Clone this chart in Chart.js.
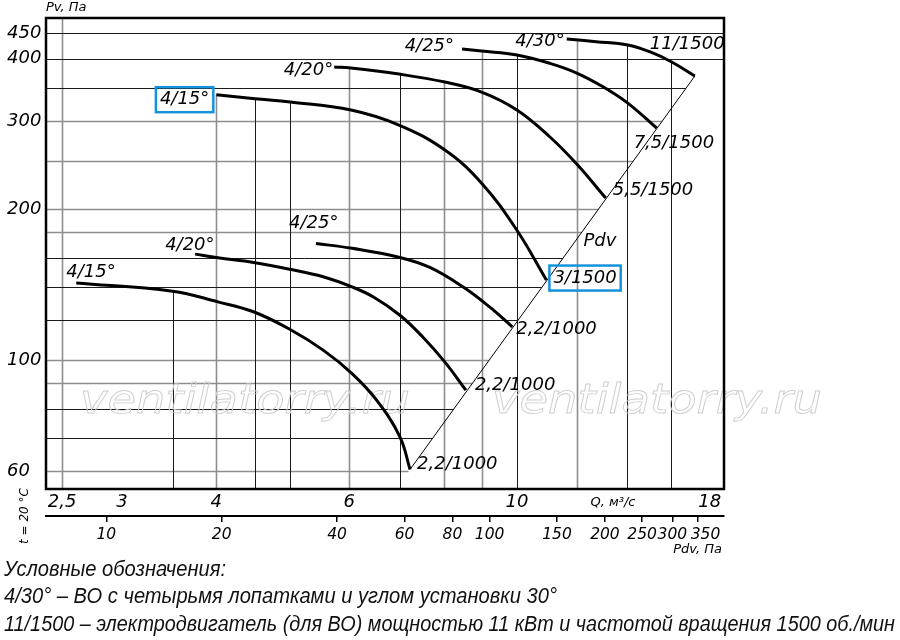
<!DOCTYPE html>
<html lang="ru">
<head>
<meta charset="utf-8">
<title>Аэродинамические характеристики</title>
<script src="https://cdn.jsdelivr.net/npm/chart.js@4.4.1/dist/chart.umd.min.js"></script>
<style>
  html, body { margin: 0; background: #fff; }
  #wrap { position: relative; width: 900px; height: 640px; overflow: hidden; }
  #chart { position: absolute; left: 0; top: 0; }
  .note { position: absolute; left: 4px; margin: 0; white-space: nowrap; transform-origin: 0 0;
          font: italic 22px/22px 'Liberation Sans Narrow', 'Liberation Sans', Arial, sans-serif; color: #111; }
</style>
</head>
<body>
<div id="wrap">
  <canvas id="chart" width="900" height="640"></canvas>
  <div class="note" style="top:558px" data-w="222">Условные обозначения:</div>
  <div class="note" style="top:585px" data-w="553">4/30° – ВО с четырьмя лопатками и углом установки 30°</div>
  <div class="note" style="top:613px" data-w="891">11/1500 – электродвигатель (для ВО) мощностью 11 кВт и частотой вращения 1500 об./мин</div>
</div>
<script>
// Pv(Q) curves, Q in m3/s, Pv in Pa
const qLow15 = [2.61, 3.50, 4.02, 4.48, 5.01, 5.54, 6.05, 6.52, 7.00, 7.22];
const pLow15 = [142.6, 137.3, 130.7, 124.9, 115.1, 104.7, 94.0, 83.2, 70.3, 60.5];
const qLow20 = [3.75, 4.02, 4.48, 5.01, 5.54, 6.05, 6.45, 7.00, 7.51, 8.03, 8.56];
const pLow20 = [162.8, 160.1, 156.7, 151.8, 146.7, 140.0, 133.8, 122.9, 111.1, 99.1, 87.1];
const qLow25 = [5.42, 6.05, 7.00, 7.67, 8.49, 9.20, 9.86];
const pLow25 = [171.0, 167.2, 160.3, 153.1, 139.9, 127.7, 116.5];
const qUp15 = [4.00, 4.50, 5.01, 6.03, 6.98, 8.03, 8.98, 10.0, 10.94];
const pUp15 = [338.8, 332.6, 327.6, 315.8, 294.7, 262.7, 225.6, 181.7, 144.5];
const qUp20 = [5.73, 6.03, 6.98, 8.03, 8.98, 10.0, 11.06, 12.0, 13.11];
const pUp20 = [384.7, 383.0, 372.5, 359.0, 342.9, 315.8, 278.9, 246.3, 210.7];
const qUp25 = [8.46, 8.98, 10.0, 11.06, 12.0, 13.0, 14.02, 15.31];
const pUp25 = [418.0, 414.1, 406.6, 391.3, 374.3, 351.4, 326.0, 290.7];
const qUp30 = [11.64, 12.74, 14.02, 14.99, 16.03, 17.2];
const pUp30 = [437.7, 432.3, 425.8, 412.8, 393.7, 369.1];

// Pdv line through the ends of the curves
const qPdv = [7.22, 17.2];
const pPdv = [60.5, 369.1];

// ticks and grid values
const qTicks = [2.5, 3, 4, 6, 10, 18];
const pvTicks = [60, 100, 200, 300, 400, 450];
const pdvTicks = [10, 20, 40, 60, 80, 100, 150, 200, 250, 300, 350];
const qGridDark = [3.5, 4.5, 5, 7, 10, 14, 16];
const qGridLight = [2.5, 4, 6, 8, 9, 12];
const pGridDark = [70, 80, 120, 140, 160, 350, 400, 450];
const pGridLight = [60, 90, 100, 180, 200, 250, 300];

const FONT = "'DejaVu Sans', sans-serif";
const font = size => 'italic ' + size + 'px ' + FONT;
const tickFont = { family: FONT, size: 18, style: 'italic' };
const pdvFont = { family: FONT, size: 15.5, style: 'italic' };
const fmt = v => String(v).replace('.', ',');

const curves = [
    { q: qLow15, p: pLow15 },
    { q: qLow20, p: pLow20 },
    { q: qLow25, p: pLow25 },
    { q: qUp15, p: pUp15 },
    { q: qUp20, p: pUp20 },
    { q: qUp25, p: pUp25 },
    { q: qUp30, p: pUp30 }
];

// text next to the curve ends (offsets in px from the first / last point)
const curveLabels = [
    { curve: 0, end: 'first', text: '4/15°', dx: -10, dy: -11 },
    { curve: 1, end: 'first', text: '4/20°', dx: -30, dy: -9 },
    { curve: 2, end: 'first', text: '4/25°', dx: -27, dy: -20 },
    { curve: 3, end: 'first', text: '4/15°', dx: -7, dy: 5, right: true, box: true },
    { curve: 4, end: 'first', text: '4/20°', dx: -1, dy: 3, right: true },
    { curve: 5, end: 'first', text: '4/25°', dx: -8, dy: -3, right: true },
    { curve: 6, end: 'first', text: '4/30°', dx: -2, dy: 2, right: true },
    { curve: 0, end: 'last', text: '2,2/1000', dx: 7, dy: -5 },
    { curve: 1, end: 'last', text: '2,2/1000', dx: 9, dy: -5 },
    { curve: 2, end: 'last', text: '2,2/1000', dx: 4, dy: 2 },
    { curve: 3, end: 'last', text: '3/1500', dx: 7, dy: -2, box: true },
    { curve: 4, end: 'last', text: '5,5/1500', dx: 7, dy: -8 },
    { curve: 5, end: 'last', text: '7,5/1500', dx: -23, dy: 15 },
    { curve: 6, end: 'last', text: '11/1500', dx: -45, dy: -32 },
    { curve: 3, end: 'last', text: 'Pdv', dx: 37, dy: -39 }
];

const datasets = curves.map(c => ({
    data: c.q.map((q, i) => ({ x: q, y: c.p[i] })),
    borderColor: '#000',
    borderWidth: 3,
    pointRadius: 0,
    tension: 0.4,
    fill: false
}));
datasets.push({
    data: qPdv.map((q, i) => ({ x: q, y: pPdv[i] })),
    borderColor: '#000',
    borderWidth: 1,
    pointRadius: 0,
    fill: false
});

// grid: vertical lines start under the highest curve, horizontal ones stop at the Pdv line
const gridPlugin = {
    id: 'fanGrid',
    beforeDatasetsDraw(chart) {
        const { ctx, chartArea: a } = chart;
        const xs = chart.scales.x, ys = chart.scales.y;
        const diag = chart.getDatasetMeta(curves.length).data;
        const lo = diag[0], hi = diag[1];

        function topOfCurves(x) {
            let top = Infinity;
            curves.forEach((c, i) => {
                const d = chart.getDatasetMeta(i).data;
                for (let k = 0; k < d.length - 1; k++) {
                    if (x >= d[k].x && x <= d[k + 1].x) {
                        const t = (x - d[k].x) / (d[k + 1].x - d[k].x);
                        top = Math.min(top, d[k].y + t * (d[k + 1].y - d[k].y));
                    }
                }
            });
            return top === Infinity ? a.top : top;
        }
        function rightEnd(y) {
            if (y < hi.y) return a.right;
            return lo.x + (y - lo.y) * (hi.x - lo.x) / (hi.y - lo.y);
        }
        function lines(list, color, width, vertical) {
            ctx.strokeStyle = color;
            ctx.lineWidth = width;
            list.forEach(v => {
                ctx.beginPath();
                if (vertical) {
                    const x = Math.round(xs.getPixelForValue(v)) + 0.5;
                    ctx.moveTo(x, topOfCurves(x));
                    ctx.lineTo(x, a.bottom);
                } else {
                    const y = Math.round(ys.getPixelForValue(v)) + 0.5;
                    ctx.moveTo(a.left, y);
                    ctx.lineTo(rightEnd(y), y);
                }
                ctx.stroke();
            });
        }

        ctx.save();
        ctx.beginPath();
        ctx.rect(a.left, a.top, a.width, a.height);
        ctx.clip();
        lines(pGridLight, '#8e8e8e', 1.6, false);
        lines(qGridLight, '#8e8e8e', 1.6, true);
        lines(pGridDark, '#1a1a1a', 1, false);
        lines(qGridDark, '#1a1a1a', 1, true);
        ctx.restore();

        // watermark (the right copy runs past the frame, as in the original)
        const mark = 'ventilatorry.ru';
        ctx.save();
        ctx.font = 'italic 41px DejaVu Sans';
        ctx.strokeStyle = '#cfcfcf';
        ctx.lineWidth = 0.9;
        ctx.textAlign = 'center';
        ctx.textBaseline = 'alphabetic';
        const w = ctx.measureText(mark).width;
        [245, 657].forEach(cx => {
            ctx.save();
            ctx.translate(cx, 413);
            ctx.scale(330 / w, 1);
            ctx.strokeText(mark, 0, 0);
            ctx.restore();
        });
        ctx.restore();
    }
};

const labelPlugin = {
    id: 'fanLabels',
    afterDatasetsDraw(chart) {
        const { ctx } = chart;
        ctx.save();
        ctx.fillStyle = '#000';
        ctx.textBaseline = 'middle';
        ctx.textAlign = 'left';
        ctx.font = font(18);
        curveLabels.forEach(l => {
            const d = chart.getDatasetMeta(l.curve).data;
            const pt = l.end === 'first' ? d[0] : d[d.length - 1];
            const w = ctx.measureText(l.text).width;
            const x = l.right ? pt.x + l.dx - w : pt.x + l.dx;
            const y = pt.y + l.dy;
            ctx.fillText(l.text, x, y);
            if (l.box) {
                ctx.strokeStyle = '#1592dc';
                ctx.lineWidth = 2.5;
                ctx.strokeRect(x - 4, y - 12.5, w + 8, 25);
            }
        });
        ctx.restore();
    },
    afterDraw(chart) {
        const { ctx, chartArea: a } = chart;
        ctx.save();
        // frame
        ctx.strokeStyle = '#000';
        ctx.lineWidth = 2.5;
        ctx.strokeRect(a.left, a.top, a.width, a.height);

        ctx.fillStyle = '#000';
        ctx.font = font(13);
        ctx.textBaseline = 'middle';
        ctx.textAlign = 'left';
        ctx.fillText('Pv, Па', a.left, 8);
        ctx.textAlign = 'center';
        ctx.fillText('Q, м³/с', chart.scales.x.getPixelForValue(13.4), 503);
        ctx.textAlign = 'right';
        ctx.fillText('Pdv, Па', a.right - 2, 550);

        ctx.font = font(12);
        ctx.translate(25, 516);
        ctx.rotate(-Math.PI / 2);
        ctx.textAlign = 'center';
        ctx.fillText('t = 20 °C', 0, 0);
        ctx.restore();
    }
};

new Chart(document.getElementById('chart'), {
    type: 'line',
    data: { datasets },
    options: {
        responsive: false,
        animation: false,
        layout: { padding: { top: 18, right: 176, left: 7, bottom: 0 } },
        plugins: { legend: { display: false }, tooltip: { enabled: false } },
        scales: {
            x: {
                type: 'logarithmic',
                position: 'bottom',
                min: 2.38,
                max: 18.8,
                weight: 0,
                afterBuildTicks: s => { s.ticks = qTicks.map(v => ({ value: v })); },
                afterFit: s => { s.height = 27; },
                grid: { display: false, drawTicks: false },
                border: { display: false },
                ticks: { callback: v => fmt(v), font: tickFont, color: '#000', padding: 3, maxRotation: 0, autoSkip: false }
            },
            x2: {
                type: 'logarithmic',
                position: 'bottom',
                min: 6.96,
                max: 409,
                weight: 1,
                afterBuildTicks: s => { s.ticks = pdvTicks.map(v => ({ value: v })); },
                afterFit: s => { s.height = 124; },
                grid: { drawOnChartArea: false, drawTicks: true, tickLength: 6, color: '#000', lineWidth: 1.5 },
                border: { display: true, color: '#000', width: 2 },
                // the last label sits a little right of its tick, as in the original
                ticks: { callback: v => (v === 350 ? '   ' : '') + fmt(v), font: pdvFont, color: '#000', padding: 4, maxRotation: 0, autoSkip: false }
            },
            y: {
                type: 'logarithmic',
                min: 55.3,
                max: 482,
                afterBuildTicks: s => { s.ticks = pvTicks.map(v => ({ value: v })); },
                afterFit: s => { s.width = 39; },
                grid: { display: false, drawTicks: false },
                border: { display: false },
                ticks: { callback: v => fmt(v), font: tickFont, color: '#000', padding: 6, crossAlign: 'far', autoSkip: false }
            }
        }
    },
    plugins: [gridPlugin, labelPlugin]
});

// fit the notes to the width they take in the original
document.querySelectorAll('.note').forEach(n => {
    const w = n.getBoundingClientRect().width;
    n.style.transform = 'scaleX(' + (n.dataset.w / w) + ')';
});
</script>
</body>
</html>
